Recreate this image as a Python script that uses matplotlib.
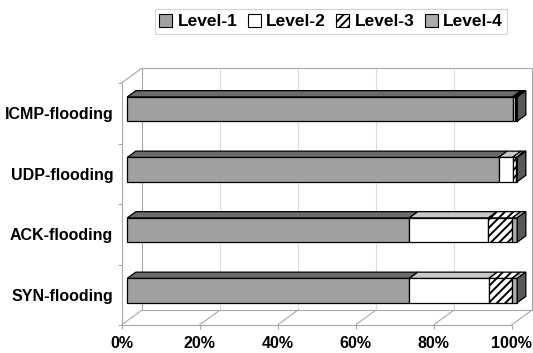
import numpy as np
import matplotlib
matplotlib.use("Agg")
import matplotlib.pyplot as plt
from matplotlib.patches import Polygon, Patch

plt.rcParams['font.family'] = ['Liberation Sans', 'DejaVu Sans']
plt.rcParams['font.weight'] = 'bold'
plt.rcParams['hatch.linewidth'] = 1.4

categories = ['SYN-flooding', 'ACK-flooding', 'UDP-flooding', 'ICMP-flooding']
level1 = [72.3, 72.3, 95.2, 98.8]
level2 = [20.4, 20.3, 3.6, 0.5]
level3 = [5.9, 6.1, 1.0, 0.4]
level4 = [1.4, 1.3, 0.2, 0.3]
levels = ['Level-1', 'Level-2', 'Level-3', 'Level-4']
xticks = [0, 20, 40, 60, 80, 100]

# face colours: front, top, hatch
front_cols = ['#a0a0a0', '#ffffff', '#ffffff', '#aaaaaa']
top_cols = ['#6b6b6b', '#c8c8c8', '#ffffff', '#bdbdbd']
hatches = [None, None, '////', None]
side_col = '#585858'

fig = plt.figure(figsize=(5.33, 3.53), dpi=100)
ax = fig.add_axes([121.5 / 533, 28 / 353, 390 / 533, 242 / 353])
ax.set_xlim(0, 100)
ax.set_ylim(-0.5, 3.5)
for s in ax.spines.values():
    s.set_visible(False)

# depth of the 3d box in data units (20.5px right, 15px up)
DX = 20.5 * 100 / 390
DY = 15 / 60.5
wall_c = '#a8a8a8'

def line(xs, ys, c, lw=0.8, z=1):
    ax.plot(xs, ys, color=c, lw=lw, zorder=z, clip_on=False, solid_capstyle='butt')

# back wall
top = 3.5 + DY
bot = -0.5 + DY
for t in xticks[1:-1]:
    line([t + DX, t + DX], [bot, top], '#dddddd')
line([DX, 100 + DX, 100 + DX, DX, DX], [bot, bot, top, top, bot], wall_c)
# floor
line([0, 100], [-0.5, -0.5], wall_c)
for t in xticks:
    line([t, t + DX], [-0.5, bot], wall_c)
# left wall front edge + top diagonal
line([0, 0], [-0.5, 3.5], wall_c)
line([0, DX], [3.5, top], wall_c)
for b in np.arange(-0.5, 4, 1.0):
    line([-0.9, 0], [b, b], wall_c)

# bars
h = 0.40
f0, f1 = 0.28, 0.70
for i, cat in enumerate(categories):
    vals = [level1[i], level2[i], level3[i], level4[i]]
    ox, oy = f0 * DX, f0 * DY
    dx, dy = (f1 - f0) * DX, (f1 - f0) * DY
    y0, y1 = i - h / 2 + oy, i + h / 2 + oy
    left = 0
    for k, v in enumerate(vals):
        x0, x1 = left + ox, left + v + ox
        ax.add_patch(Polygon([[x0, y1], [x1, y1], [x1 + dx, y1 + dy], [x0 + dx, y1 + dy]],
                             facecolor=top_cols[k], edgecolor='black', lw=0.9,
                             hatch=hatches[k], zorder=3, clip_on=False))
        ax.add_patch(Polygon([[x0, y0], [x1, y0], [x1, y1], [x0, y1]],
                             facecolor=front_cols[k], edgecolor='black', lw=0.9,
                             hatch=hatches[k], zorder=4, clip_on=False))
        left += v
    xe = left + ox
    ax.add_patch(Polygon([[xe, y0], [xe, y1], [xe + dx, y1 + dy], [xe + dx, y0 + dy]],
                         facecolor=side_col, edgecolor='black', lw=0.9, zorder=4, clip_on=False))

ax.set_yticks(range(len(categories)))
ax.set_yticklabels(categories, fontsize=11.5, fontweight='bold')
ax.tick_params(axis='y', length=0, pad=6)
ax.set_xticks(xticks)
ax.set_xticklabels([f'{t}%' for t in xticks], fontsize=11.5, fontweight='bold')
ax.tick_params(axis='x', length=3, color=wall_c, pad=5)

handles = [Patch(facecolor=front_cols[k], edgecolor='black', hatch=hatches[k], lw=0.8)
           for k in range(4)]
leg = fig.legend(handles, levels, loc='center', bbox_to_anchor=(0.621, 0.939), ncol=4,
                 fancybox=False, edgecolor='#c8c8c8', handlelength=0.75, handleheight=0.75,
                 handletextpad=0.3, columnspacing=0.6, borderpad=0.25,
                 prop={'size': 12.5, 'weight': 'bold'})
leg.get_frame().set_linewidth(0.8)

fig.savefig('out.png', dpi=100)
